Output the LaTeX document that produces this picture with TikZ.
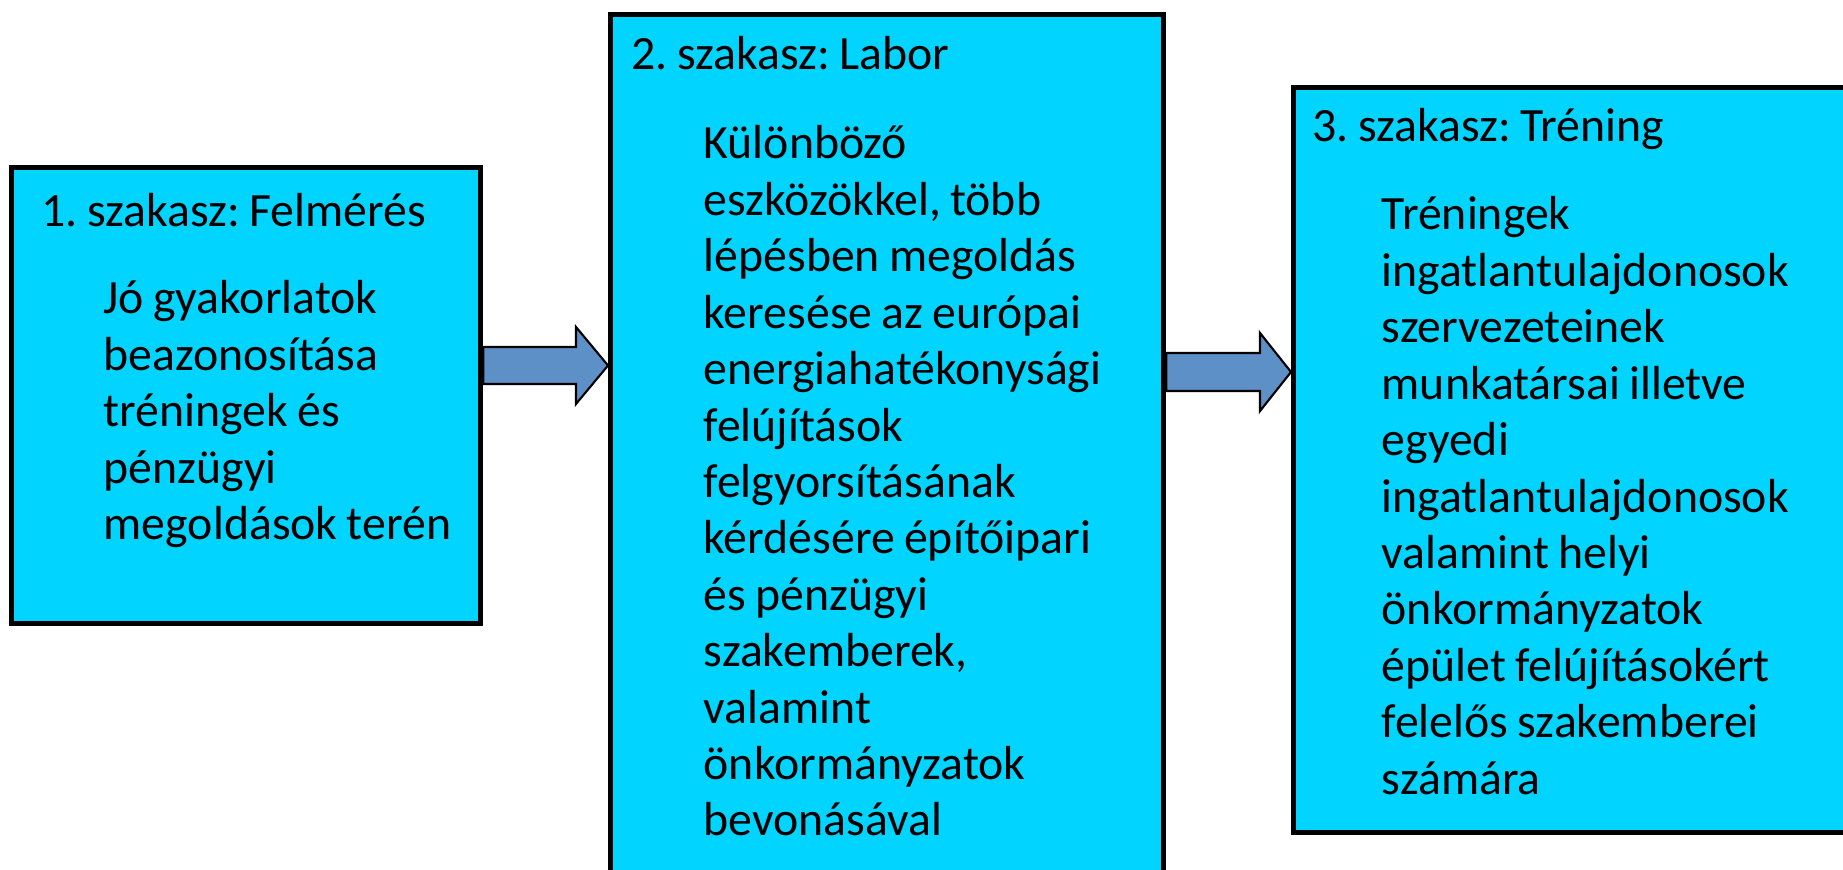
\documentclass[tikz,border=0pt]{standalone}
\usepackage{fontspec}
\setmainfont[WordSpace=0.85]{Carlito}
\frenchspacing
\usetikzlibrary{calc}

\definecolor{boxcyan}{RGB}{0,212,255}
\definecolor{arrowblue}{RGB}{94,144,200}

\tikzset{
	stagebox/.style={draw=black, line width=1.5pt, fill=boxcyan, anchor=north west, inner sep=0pt},
	stagetitle/.style={anchor=base west, inner sep=0pt, font=\fontsize{13.6}{16.05}\selectfont},
	stagetext/.style={anchor=base west, inner sep=0pt, align=flush left, text width=5cm, font=\fontsize{13.6}{16.05}\selectfont},
	blockarrow/.style={draw=black, line width=0.6pt, fill=arrowblue, line join=miter}
}

\begin{document}
\begin{tikzpicture}
	\useasboundingbox (0,0) rectangle (18.43,-8.70);

	% boxes
	\node[stagebox, minimum width=4.69cm, minimum height=4.56cm] (b1) at (0.09,-1.65) {};
	\node[stagebox, minimum width=5.53cm, minimum height=9.00cm] (b2) at (6.08,-0.12) {};
	\node[stagebox, minimum width=5.70cm, minimum height=7.45cm] (b3) at (12.91,-0.85) {};

	% titles
	\node[stagetitle] (t1) at ($(b1.north west)+(0.32,-0.62)$) {1. szakasz: Felmérés};
	\node[stagetitle] (t2) at ($(b2.north west)+(0.23,-0.58)$) {2. szakasz: Labor};
	\node[stagetitle] (t3) at ($(b3.north west)+(0.21,-0.57)$) {3. szakasz: Tréning};

	% texts
	\node[stagetext] (d1) at ($(b1.west |- t1.base)+(0.94,-0.87)$) {Jó gyakorlatok\\
		beazonosítása\\
		tréningek és\\
		pénzügyi\\
		megoldások terén};
	\node[stagetext] (d2) at ($(b2.west |- t2.base)+(0.95,-0.89)$) {Különböző\\
		eszközökkel, több\\
		lépésben megoldás\\
		keresése az európai\\
		energiahatékonysági\\
		felújítások\\
		felgyorsításának\\
		kérdésére építőipari\\
		és pénzügyi\\
		szakemberek,\\
		valamint\\
		önkormányzatok\\
		bevonásával};
	\node[stagetext] (d3) at ($(b3.west |- t3.base)+(0.90,-0.88)$) {Tréningek\\
		ingatlantulajdonosok\\
		szervezeteinek\\
		munkatársai illetve\\
		egyedi\\
		ingatlantulajdonosok\\
		valamint helyi\\
		önkormányzatok\\
		épület felújításokért\\
		felelős szakemberei\\
		számára};

	% arrows
	\draw[blockarrow] (b1.east |- 0,-3.47) -- (5.76,-3.47) -- (5.76,-3.27)
		-- (b2.west |- 0,-3.655) -- (5.76,-4.04) -- (5.76,-3.84)
		-- (b1.east |- 0,-3.84) -- cycle;
	\draw[blockarrow] (b2.east |- 0,-3.53) -- (12.60,-3.53) -- (12.60,-3.33)
		-- (b3.west |- 0,-3.72) -- (12.60,-4.11) -- (12.60,-3.91)
		-- (b2.east |- 0,-3.91) -- cycle;
\end{tikzpicture}
\end{document}
